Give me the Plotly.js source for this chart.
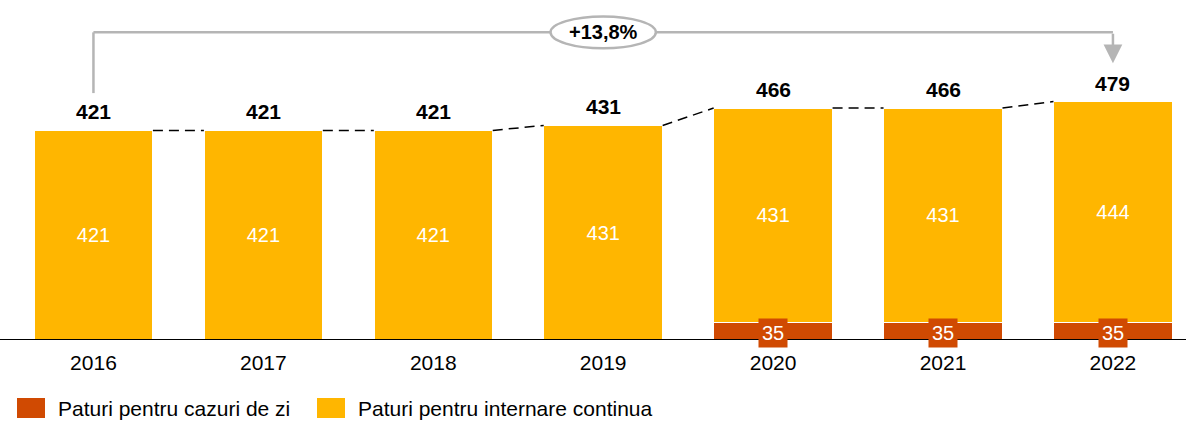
<!DOCTYPE html>
<html>
<head>
<meta charset="utf-8">
<script src="https://cdn.plot.ly/plotly-3.0.1.min.js"></script>
<style>
  html, body { margin: 0; padding: 0; background: #fff; }
  #plot { width: 1186px; height: 421px; }
</style>
</head>
<body>
<div id="plot"></div>
<script>
// Years and bed counts
let years = ["2016", "2017", "2018", "2019", "2020", "2021", "2022"]
let zi = [null, null, null, null, 35, 35, 35]
let continua = [421, 421, 421, 431, 431, 431, 444]
let totals = [421, 421, 421, 431, 466, 466, 479]
let growthLabel = "+13,8%"
let seriesNames = ["Paturi pentru cazuri de zi", "Paturi pentru internare continua"]

let red = "#D04A02"
let yellow = "#FFB600"
let grey = "#B5B5B5"
let font = "Liberation Sans, Arial, sans-serif"

let xs = years.map((y, i) => i)

// Bars
let traceZi = {
  x: xs, y: zi, type: "bar", name: seriesNames[0],
  marker: {color: red, line: {color: "#fff", width: 1.5}},
  width: 0.7, showlegend: false, hoverinfo: "skip"
}
let traceCont = {
  x: xs, y: continua, type: "bar", name: seriesNames[1],
  marker: {color: yellow, line: {color: "#fff", width: 1.5}},
  width: 0.7, showlegend: false, hoverinfo: "skip",
  text: continua.map(String), textposition: "inside", insidetextanchor: "middle",
  textfont: {color: "#fff", size: 20, family: font}
}

// Dashed connectors between bar tops
let cx = [], cy = []
for (let i = 0; i < totals.length - 1; i++) {
  cx.push(i + 0.35, i + 0.65, null)
  cy.push(totals[i], totals[i + 1], null)
}
let connectors = {
  x: cx, y: cy, type: "scatter", mode: "lines", showlegend: false,
  line: {color: "#000", width: 1.5, dash: "10px,6px"}, hoverinfo: "skip"
}

let data = [traceZi, traceCont, connectors]

let annotations = []
// Totals above bars
totals.forEach((t, i) => {
  annotations.push({x: i, y: t, text: "<b>" + t + "</b>", showarrow: false,
    yanchor: "bottom", yshift: 5, font: {size: 21, family: font, color: "#000"}})
})
// Day-case values in boxes
zi.forEach((v, i) => {
  if (v != null) {
    annotations.push({x: i, y: v / 2, text: String(v), showarrow: false,
      bgcolor: red, borderpad: 3, yshift: -2,
      font: {size: 20, family: font, color: "#fff"}})
  }
})
// Growth arrow
let bracketY = 618
annotations.push({x: 6, y: 556, ax: 6, ay: bracketY, axref: "x", ayref: "y",
  showarrow: true, arrowhead: 2, arrowsize: 1.5, arrowwidth: 2.5, arrowcolor: grey,
  standoff: 0, text: ""})
annotations.push({x: 3, y: bracketY, text: "<b>" + growthLabel + "</b>", showarrow: false,
  font: {size: 20, family: font, color: "#000"}})

// Legend drawn by hand (paper coords, 340 px plot height)
let legColors = [red, yellow]
let legX = [17, 317]
let shapes = []
seriesNames.forEach((n, k) => {
  shapes.push({type: "rect", xref: "paper", yref: "paper",
    x0: legX[k] / 1186, x1: (legX[k] + 28) / 1186, y0: -78 / 340, y1: -58 / 340,
    fillcolor: legColors[k], line: {width: 0}})
  annotations.push({xref: "paper", yref: "paper", x: (legX[k] + 39) / 1186, y: -68 / 340,
    xanchor: "left", yanchor: "middle", text: n, showarrow: false,
    font: {size: 21, family: font, color: "#000"}})
})

shapes.push(
  {type: "line", xref: "x", yref: "y", x0: 0, x1: 0, y0: 496, y1: bracketY, line: {color: grey, width: 2.5}},
  {type: "line", xref: "x", yref: "y", x0: 0, x1: 6, y0: bracketY, y1: bracketY, line: {color: grey, width: 2.5}},
  {type: "circle", xref: "x", yref: "y", x0: 2.69, x1: 3.31, y0: 586, y1: 650,
    fillcolor: "#fff", line: {color: grey, width: 2.5}},
  {type: "line", xref: "paper", yref: "y", x0: 0, x1: 1, y0: 0, y1: 0, line: {color: "#000", width: 2}}
)

let layout = {
  width: 1186, height: 421,
  margin: {l: 0, r: 0, t: 0, b: 81},
  paper_bgcolor: "#fff", plot_bgcolor: "#fff",
  barmode: "stack",
  showlegend: false,
  font: {family: font, size: 17, color: "#000"},
  xaxis: {range: [-0.55, 6.43], tickvals: xs, ticktext: years, showgrid: false,
    zeroline: false, showline: false, ticks: "", ticklabelstandoff: 8,
    tickfont: {size: 21, family: font, color: "#000"}},
  yaxis: {range: [0, 683], visible: false, showgrid: false, zeroline: false},
  annotations: annotations,
  shapes: shapes
}

Plotly.newPlot("plot", data, layout, {displayModeBar: false, staticPlot: true})
</script>
</body>
</html>
